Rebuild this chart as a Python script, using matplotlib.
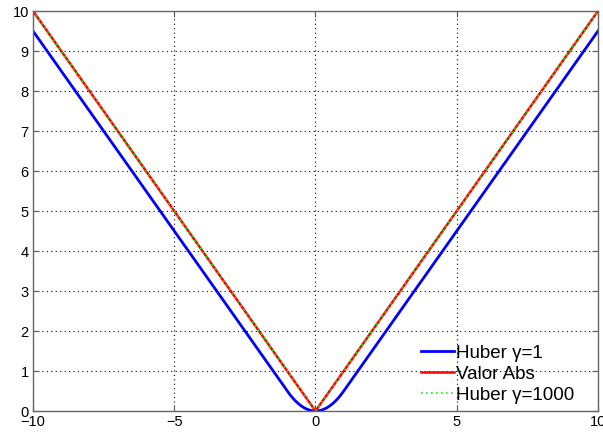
import numpy as np
import matplotlib.pyplot as plt

# rango de x y parametros de Huber
x = np.linspace(-10, 10, 2001)
gammas = [1, 1000]
labels = ['Huber γ=1', 'Valor Abs', 'Huber γ=1000']


def huber(x, g):
    # cuadratica para |x| <= 1/g, lineal fuera
    ax = np.abs(x)
    return np.where(ax <= 1.0 / g, g * x**2 / 2, ax - 1.0 / (2 * g))


plt.rcParams['font.family'] = ['Liberation Sans', 'DejaVu Sans']

fig = plt.figure(figsize=(6.03, 4.32), dpi=100)
ax = fig.add_axes([0.0547, 0.0486, 0.9370, 0.9259])

ax.plot(x, huber(x, gammas[0]), color='#0000ff', lw=2, label=labels[0])
ax.plot(x, np.abs(x), color='#ff0000', lw=1.8, label=labels[1])
ax.plot(x, huber(x, gammas[1]), color='#00ff00', lw=1.2, ls=(0, (1, 2)), label=labels[2])

ax.set_xlim(-10, 10)
ax.set_ylim(0, 10)
ax.set_xticks(np.arange(-10, 11, 5))
ax.set_yticks(np.arange(0, 11, 1))
ax.grid(True, color='black', ls=(0, (1, 3)), lw=0.8)
ax.tick_params(direction='in', top=True, right=True, labelsize=10.5, length=4,
               color='0.35', pad=3)
for s in ax.spines.values():
    s.set_linewidth(1.0)
    s.set_color('0.4')

ax.legend(loc='lower right', frameon=False, fontsize=13.5, handlelength=1.75,
          handletextpad=0.12, labelspacing=0.2, borderaxespad=0.0,
          bbox_to_anchor=(0.972, 0.0))

fig.savefig('out.png', dpi=100)
